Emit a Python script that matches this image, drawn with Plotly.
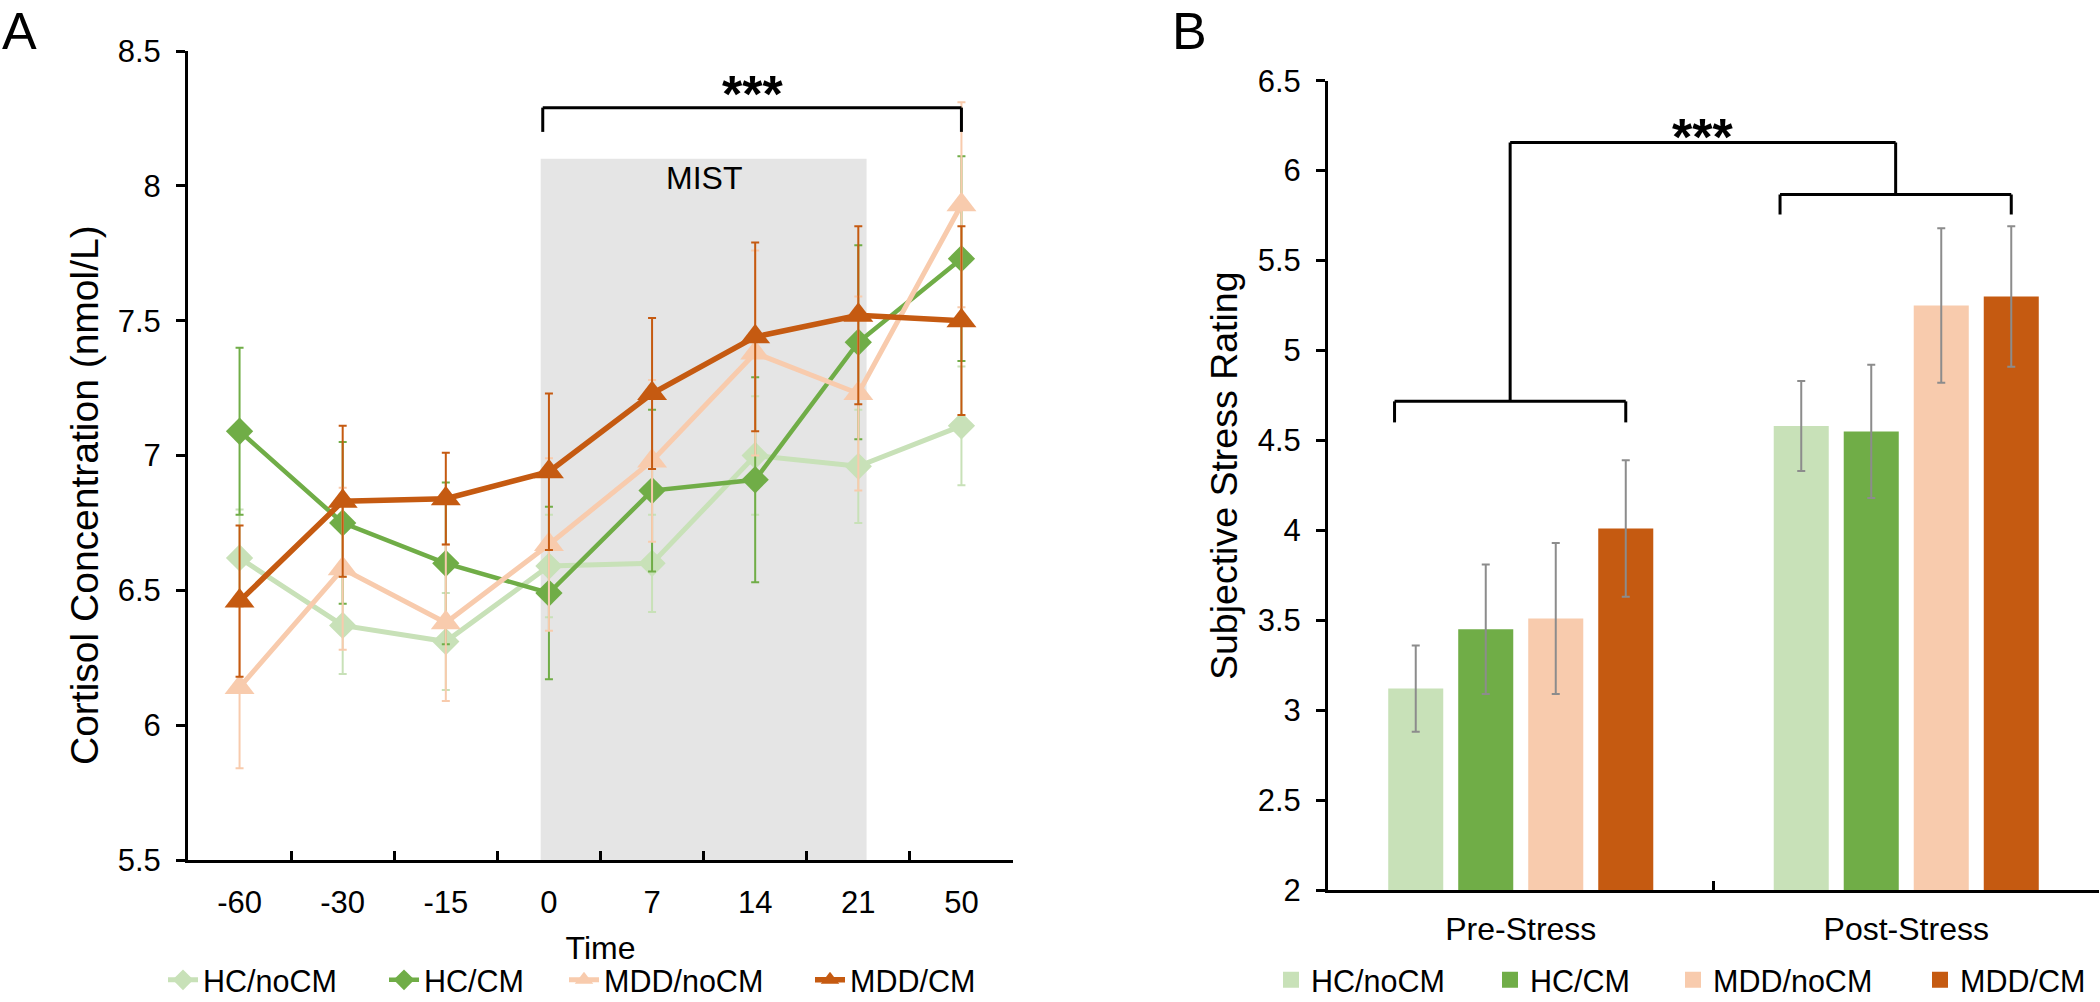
import plotly.graph_objects as go

# ---------------- data ----------------
times = ["-60", "-30", "-15", "0", "7", "14", "21", "50"]
groups = ["HC/noCM", "HC/CM", "MDD/noCM", "MDD/CM"]
colors = ["#C8E1B8", "#70AD47", "#F8CBAD", "#C55A11"]

cort_hc_nocm = [6.62, 6.37, 6.31, 6.59, 6.60, 7.00, 6.96, 7.11]
cort_hc_nocm_err = [0.18, 0.18, 0.18, 0.19, 0.18, 0.22, 0.21, 0.22]
cort_hc_cm = [7.09, 6.75, 6.60, 6.49, 6.87, 6.91, 7.42, 7.73]
cort_hc_cm_err = [0.31, 0.30, 0.30, 0.32, 0.30, 0.38, 0.36, 0.38]
cort_mdd_nocm = [6.14, 6.58, 6.38, 6.67, 6.98, 7.38, 7.23, 7.93]
cort_mdd_nocm_err = [0.30, 0.30, 0.29, 0.32, 0.30, 0.38, 0.36, 0.38]
cort_mdd_cm = [6.46, 6.83, 6.84, 6.94, 7.23, 7.44, 7.52, 7.50]
cort_mdd_cm_err = [0.28, 0.28, 0.17, 0.29, 0.28, 0.35, 0.33, 0.35]

phases = ["Pre-Stress", "Post-Stress"]
stress_hc_nocm = [3.12, 4.58]
stress_hc_nocm_err = [0.24, 0.25]
stress_hc_cm = [3.45, 4.55]
stress_hc_cm_err = [0.36, 0.37]
stress_mdd_nocm = [3.51, 5.25]
stress_mdd_nocm_err = [0.42, 0.43]
stress_mdd_cm = [4.01, 5.30]
stress_mdd_cm_err = [0.38, 0.39]

cort_series = [
    (cort_hc_nocm, cort_hc_nocm_err),
    (cort_hc_cm, cort_hc_cm_err),
    (cort_mdd_nocm, cort_mdd_nocm_err),
    (cort_mdd_cm, cort_mdd_cm_err),
]
stress_series = [
    (stress_hc_nocm, stress_hc_nocm_err),
    (stress_hc_cm, stress_hc_cm_err),
    (stress_mdd_nocm, stress_mdd_nocm_err),
    (stress_mdd_cm, stress_mdd_cm_err),
]
symbols = ["diamond", "diamond", "triangle-up", "triangle-up"]
marker_sizes = [21, 21, 26, 26]
line_widths = [5, 4.5, 5, 5.5]

# ---------------- layout constants ----------------
W, H = 2100, 1002
FONT = "Liberation Sans, Arial, sans-serif"
px_x = lambda p: p / W
px_y = lambda p: 1 - p / H

BARGAP = 0.2736
BARGROUPGAP = 0.214
slot = (1 - BARGAP) / len(groups)
bar_centers = [-(1 - BARGAP) / 2 + slot * (i + 0.5) for i in range(len(groups))]

fig = go.Figure()

# ---------------- panel A ----------------
for i, (g, (vals, errs)) in enumerate(zip(groups, cort_series)):
    fig.add_trace(go.Scatter(
        x=times, y=vals, name=g, mode="lines+markers",
        line=dict(color=colors[i], width=line_widths[i]),
        marker=dict(symbol=symbols[i], size=marker_sizes[i], color=colors[i]),
        error_y=dict(type="data", array=errs, color=colors[i], thickness=2, width=4),
        xaxis="x", yaxis="y",
        legend="legend" if i == 0 else f"legend{i + 1}",
    ))

# ---------------- panel B ----------------
for i, (g, (vals, errs)) in enumerate(zip(groups, stress_series)):
    fig.add_trace(go.Bar(
        x=phases, y=vals, name=g,
        marker=dict(color=colors[i], line=dict(width=0)),
        error_y=dict(type="data", array=errs, color="#8C8C8C", thickness=2, width=4),
        xaxis="x2", yaxis="y2", showlegend=False,
    ))
    # legend helper (square swatch)
    fig.add_trace(go.Scatter(
        x=[None], y=[None], name=g, mode="markers",
        marker=dict(symbol="square", size=16, color=colors[i]),
        xaxis="x2", yaxis="y2", legend=f"legend{i + 5}",
    ))

TICK = 31
axis_common = dict(showgrid=False, zeroline=False, showline=True, linecolor="black",
                   linewidth=3, tickcolor="black", tickwidth=2.5, ticklen=9,
                   tickfont=dict(size=TICK, color="black", family=FONT))

layout = dict(
    width=W, height=H,
    margin=dict(l=0, r=0, t=0, b=0, autoexpand=False),
    paper_bgcolor="white", plot_bgcolor="white",
    font=dict(family=FONT, color="black", size=TICK),
    barmode="group", bargap=BARGAP, bargroupgap=BARGROUPGAP,
    xaxis=dict(axis_common, domain=[px_x(188), px_x(1013)], type="category",
               categoryorder="array", categoryarray=times, range=[-0.5, 7.5],
               ticks="inside", tickson="boundaries", ticklabelstandoff=13,
               title=dict(text="Time", font=dict(size=32), standoff=18),
               anchor="y"),
    yaxis=dict(axis_common, domain=[px_y(860), px_y(51)], range=[5.5, 8.5],
               tick0=5.5, dtick=0.5, ticks="outside", ticklabelstandoff=9,
               anchor="x"),
    xaxis2=dict(axis_common, domain=[px_x(1328), px_x(2099)], type="category",
                categoryorder="array", categoryarray=phases, range=[-0.5, 1.5],
                ticks="inside", tickson="boundaries", ticklabelstandoff=9,
                tickfont=dict(size=32, color="black", family=FONT), anchor="y2"),
    yaxis2=dict(axis_common, domain=[px_y(890), px_y(80.7)], range=[2, 6.5],
                tick0=2, dtick=0.5, ticks="outside", ticklabelstandoff=9,
                anchor="x2"),
)

# individual legends, one per entry
legend_a_x = [163, 384, 564, 810]
legend_b_x = [1271, 1490, 1673, 1920]
for i, xp in enumerate(legend_a_x + legend_b_x):
    key = "legend" if i == 0 else f"legend{i + 1}"
    layout[key] = dict(x=px_x(xp), xanchor="left", y=px_y(980), yanchor="middle",
                       orientation="h", bgcolor="rgba(0,0,0,0)", borderwidth=0,
                       font=dict(size=30.5, family=FONT, color="black"),
                       itemclick=False, itemdoubleclick=False)
fig.update_layout(**layout)

# ---------------- shapes ----------------
shapes = []
# MIST stress period shading (from time 0 to time 21)
i0, i21 = times.index("0"), times.index("21")
shapes.append(dict(type="rect", xref="x", yref="y", x0=i0 - 0.08, x1=i21 + 0.08,
                   y0=5.5, y1=8.1, fillcolor="#E5E5E5", line=dict(width=0), layer="below"))
# significance bracket A
bA_l, bA_r = i0 - 0.06, times.index("50")
bA_top, bA_bot = 8.29, 8.20
blk = dict(color="black", width=3)
shapes += [
    dict(type="line", xref="x", yref="y", x0=bA_l, x1=bA_r, y0=bA_top, y1=bA_top, line=blk),
    dict(type="line", xref="x", yref="y", x0=bA_l, x1=bA_l, y0=bA_top, y1=bA_bot, line=blk),
    dict(type="line", xref="x", yref="y", x0=bA_r, x1=bA_r, y0=bA_top, y1=bA_bot, line=blk),
]
# brackets B
br_levels = [(4.717, 4.60), (5.867, 5.756)]
top_level = 6.157
mids = []
for ci, (yt, yb) in enumerate(br_levels):
    xl = ci + bar_centers[0] - 0.055
    xr = ci + bar_centers[-1]
    shapes += [
        dict(type="line", xref="x2", yref="y2", x0=xl, x1=xr, y0=yt, y1=yt, line=blk),
        dict(type="line", xref="x2", yref="y2", x0=xl, x1=xl, y0=yt, y1=yb, line=blk),
        dict(type="line", xref="x2", yref="y2", x0=xr, x1=xr, y0=yt, y1=yb, line=blk),
    ]
    xm = (xl + xr) / 2
    mids.append(xm)
    shapes.append(dict(type="line", xref="x2", yref="y2", x0=xm, x1=xm, y0=yt, y1=top_level, line=blk))
shapes.append(dict(type="line", xref="x2", yref="y2", x0=mids[0], x1=mids[1],
                   y0=top_level, y1=top_level, line=blk))
fig.update_layout(shapes=shapes)

# ---------------- annotations ----------------
ann = [
    dict(text="A", x=px_x(19), y=1, xref="paper", yref="paper", showarrow=False,
         xanchor="center", yanchor="top", font=dict(size=52)),
    dict(text="B", x=px_x(1189), y=1, xref="paper", yref="paper", showarrow=False,
         xanchor="center", yanchor="top", font=dict(size=52)),
    dict(text="Cortisol Concentration (nmol/L)", textangle=-90, x=px_x(84), y=px_y(495),
         xref="paper", yref="paper", showarrow=False, xanchor="center", yanchor="middle",
         font=dict(size=39)),
    dict(text="Subjective Stress Rating", textangle=-90, x=px_x(1224), y=px_y(476),
         xref="paper", yref="paper", showarrow=False, xanchor="center", yanchor="middle",
         font=dict(size=37.5)),
    dict(text="MIST", x=(i0 + i21) / 2, y=8.03, xref="x", yref="y", showarrow=False,
         xanchor="center", yanchor="middle", font=dict(size=32)),
    dict(text="<b>***</b>", x=(bA_l + bA_r) / 2, y=bA_top, xref="x", yref="y", showarrow=False,
         xanchor="center", yanchor="bottom", yshift=-17, font=dict(size=52)),
    dict(text="<b>***</b>", x=(mids[0] + mids[1]) / 2, y=top_level, xref="x2", yref="y2",
         showarrow=False, xanchor="center", yanchor="bottom", yshift=-26, font=dict(size=52)),
]
fig.update_layout(annotations=ann)

fig.write_html("out.html", config={"displayModeBar": False},
               post_script="document.body.style.margin='0';document.body.style.overflow='hidden';")
